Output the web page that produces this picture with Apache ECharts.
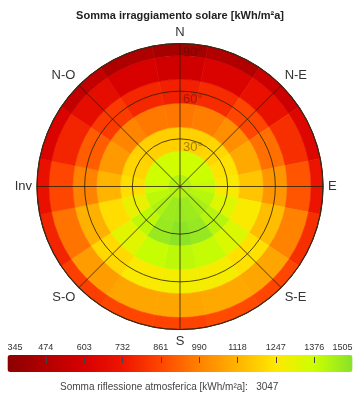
<!DOCTYPE html>
<html><head><meta charset="utf-8">
<script src="https://cdn.jsdelivr.net/npm/echarts@6/dist/echarts.min.js"></script>
<style>html,body{margin:0;padding:0;background:#fff}#c{width:360px;height:397px}</style>
</head><body><div id="c"></div>
<script>
// ---- data ----
const chartTitle = 'Somma irraggiamento solare [kWh/m²a]';
const azimuths = [0, 22.5, 45, 67.5, 90, 112.5, 135, 157.5, 180, 202.5, 225, 247.5, 270, 292.5, 315, 337.5];
const directionAngles = [0, 45, 90, 135, 180, 225, 270, 315];
const directionLabels = ['N', 'N-E', 'E', 'S-E', 'S', 'S-O', 'Inv', 'N-O'];
const tiltTicks = [30, 60, 90];
const tilts = [15, 30, 45, 60, 75, 90];
const centerValue = 1425; // tilt 0
const tilt15 = [1365, 1368, 1372, 1380, 1392, 1415, 1445, 1465, 1475, 1465, 1435, 1405, 1380, 1372, 1368, 1365];
const tilt30 = [1185, 1190, 1205, 1235, 1260, 1330, 1420, 1480, 1495, 1475, 1405, 1300, 1225, 1200, 1190, 1185];
const tilt45 = [965, 980, 1020, 1090, 1160, 1260, 1340, 1390, 1405, 1385, 1320, 1220, 1120, 1050, 995, 970];
const tilt60 = [760, 790, 860, 950, 1040, 1140, 1230, 1270, 1275, 1260, 1210, 1110, 990, 910, 830, 780];
const tilt75 = [580, 620, 700, 800, 890, 990, 1080, 1090, 1080, 1080, 1060, 960, 860, 770, 680, 610];
const tilt90 = [430, 470, 560, 640, 720, 800, 860, 870, 850, 860, 840, 770, 700, 620, 530, 460];
const legendTicks = ['345', '474', '603', '732', '861', '990', '1118', '1247', '1376', '1505'];
const scaleMin = 345, scaleMax = 1505;
const reflectionLabel = 'Somma riflessione atmosferica [kWh/m²a]:';
const reflectionValue = 3047;

// ---- build ----
const tiltRows = [tilt15, tilt30, tilt45, tilt60, tilt75, tilt90];
const tiltHalf = (tilts[1] - tilts[0]) / 2;
const azHalf = (azimuths[1] - azimuths[0]) / 2;
const cellData = [[0, 0, centerValue]];
tilts.forEach((t, i) => azimuths.forEach((a, j) => cellData.push([t, a, tiltRows[i][j]])));

function renderCell(params, api) {
  const tilt = api.value(0), az = api.value(1);
  const c = api.coord([0, az]);
  const cx = c[0], cy = c[1];
  const dist = p => Math.hypot(p[0] - cx, p[1] - cy);
  const ang = p => Math.atan2(p[1] - cy, p[0] - cx);
  const col = api.visual('color');
  const style = { fill: col, stroke: col, lineWidth: 0.6 };
  if (tilt === 0) {
    return { type: 'circle', shape: { cx: cx, cy: cy, r: dist(api.coord([tiltHalf, az])) }, style: style };
  }
  const rIn = dist(api.coord([tilt - tiltHalf, az]));
  const rOut = dist(api.coord([Math.min(tilt + tiltHalf, 90), az]));
  let a0 = ang(api.coord([90, (az - azHalf + 360) % 360]));
  let a1 = ang(api.coord([90, (az + azHalf) % 360]));
  if (a1 < a0) a1 += Math.PI * 2;
  return { type: 'sector', shape: { cx: cx, cy: cy, r0: rIn, r: rOut, startAngle: a0, endAngle: a1, clockwise: true }, style: style };
}

const chart = echarts.init(document.getElementById('c'), null, { renderer: 'canvas' });
const font = 'Liberation Sans, Arial, sans-serif';
chart.setOption({
  animation: false,
  backgroundColor: '#fff',
  title: [
    { text: chartTitle, left: 'center', top: 5, textStyle: { fontSize: 11, fontWeight: 'bold', color: '#222', fontFamily: font } },
    { text: reflectionLabel + '   ' + reflectionValue, left: 55, top: 377, textStyle: { fontSize: 10, fontWeight: 'normal', color: '#444', fontFamily: font } }
  ],
  polar: { center: [180, 186.5], radius: 143 },
  angleAxis: {
    type: 'value', min: 0, max: 360, interval: 45, startAngle: 90, clockwise: true, z: 5,
    axisLine: { show: true, lineStyle: { color: '#3a2a1a', width: 1.2 } },
    axisTick: { show: false },
    splitLine: { show: true, lineStyle: { color: 'rgba(40,30,0,0.8)', width: 1 } },
    axisLabel: {
      margin: 5, fontSize: 13, color: '#333', fontFamily: font,
      formatter: v => { const i = directionAngles.indexOf(v); return (i >= 0 && v !== 360) ? directionLabels[i] : ''; }
    }
  },
  radiusAxis: {
    type: 'value', min: 0, max: 90, interval: 30, z: 5,
    axisLine: { show: false }, axisTick: { show: false }, axisLabel: { show: false },
    splitLine: { show: true, lineStyle: { color: 'rgba(40,30,0,0.8)', width: 1 } }
  },
  grid: { left: 7.5, width: 345, top: 340, height: 23, z: 10 },
  xAxis: {
    type: 'category', data: legendTicks, boundaryGap: false, position: 'bottom', z: 10,
    axisLine: { show: false },
    axisTick: { show: true, inside: true, length: 6, interval: (i) => i > 0 && i < legendTicks.length - 1, lineStyle: { color: '#444', width: 1 } },
    axisLabel: { show: true, inside: true, interval: 0, margin: 11, fontSize: 9, color: '#333', fontFamily: font, alignMinLabel: 'left', alignMaxLabel: 'right' },
    splitLine: { show: false }
  },
  yAxis: { type: 'value', show: false },
  visualMap: {
    type: 'continuous', min: scaleMin, max: scaleMax, dimension: 2, seriesIndex: 0, z: 2,
    orient: 'horizontal', left: 7.5, top: 355, itemWidth: 17, itemHeight: 345, padding: 0,
    calculable: false, hoverLink: false, text: null, showLabel: false,
    inRange: { color: ['#8c0000', '#b30000', '#d80000', '#ee1500', '#ff4600', '#ff8200', '#ffb400', '#ffe800', '#ccff00', '#88e22a'] }
  },
  series: [
    { type: 'custom', coordinateSystem: 'polar', data: cellData, renderItem: renderCell, encode: { radius: 0, angle: 1 }, silent: true, z: 1 },
    {
      type: 'scatter', coordinateSystem: 'polar', symbolSize: 0, silent: true, z: 8,
      data: tiltTicks.map(t => [t, 0]),
      label: { show: true, position: [3, 2], formatter: p => p.value[0] + '°', fontSize: 13, color: 'rgba(50,20,0,0.55)', fontFamily: font }
    }
  ]
});
</script></body></html>
